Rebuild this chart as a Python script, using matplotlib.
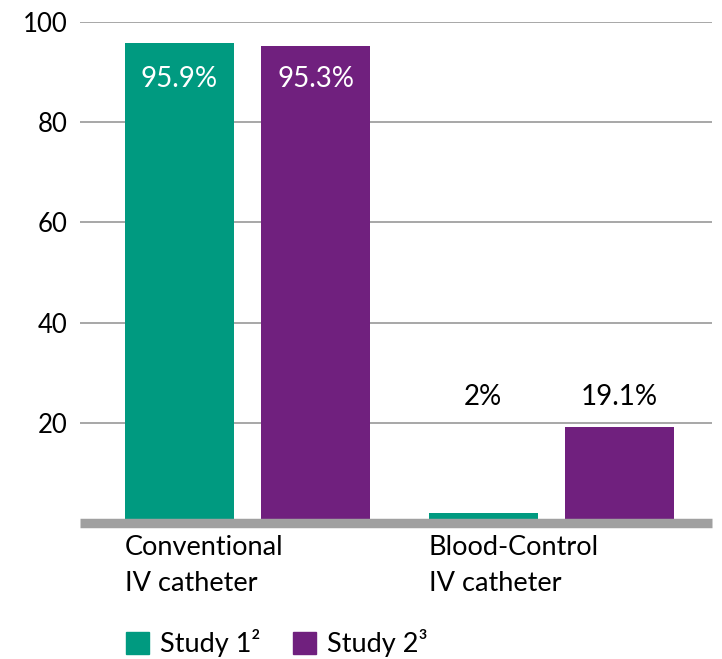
import numpy as np
import matplotlib
matplotlib.use("Agg")
import matplotlib.pyplot as plt
from matplotlib.patches import Patch

plt.rcParams['font.family'] = ['Lato', 'DejaVu Sans']

# данные
categories = ["Conventional\nIV catheter", "Blood-Control\nIV catheter"]
study1 = [95.9, 2]
study2 = [95.3, 19.1]
labels1 = ["95.9%", "2%"]
labels2 = ["95.3%", "19.1%"]
series_names = ["Study 1²", "Study 2³"]

green = "#009a80"
purple = "#70207e"
gray = "#a0a0a0"

fig = plt.figure(figsize=(7.22, 6.59), dpi=100)
ax = fig.add_axes([0.1108, 0.2064, 0.8753, 0.7602])

x = np.arange(len(categories))
w = 0.359
off = 0.224
ax.bar(x - off, study1, w, color=green, zorder=2)
ax.bar(x + off, study2, w, color=purple, zorder=2)

ax.set_xlim(-0.551, 1.528)
ax.set_ylim(0, 100)
ax.set_yticks([20, 40, 60, 80, 100])
ax.grid(axis='y', color=gray, lw=1.3, zorder=1)
ax.set_axisbelow(True)
for s in ax.spines.values():
    s.set_visible(False)
ax.tick_params(axis='y', length=0, pad=9, labelsize=18.5)
ax.set_xticks([])
ax.axhline(0, color=gray, lw=6.8, zorder=3, clip_on=False, solid_capstyle='butt')

# подписи значений
ax.text(x[0] - off, 88.6, labels1[0], color='white', ha='center', va='center', fontsize=20)
ax.text(x[0] + off, 88.6, labels2[0], color='white', ha='center', va='center', fontsize=20)
ax.text(x[1] - off, 25.2, labels1[1], color='black', ha='center', va='center', fontsize=20)
ax.text(x[1] + off, 25.2, labels2[1], color='black', ha='center', va='center', fontsize=20)

# подписи категорий
for i, c in enumerate(categories):
    ax.text(x[i] - off - w / 2, -2.3, c, ha='left', va='top', fontsize=19.5,
            linespacing=1.55)

handles = [Patch(color=green), Patch(color=purple)]
fig.legend(handles, series_names, loc='lower left', bbox_to_anchor=(0.16, -0.014),
           ncol=2, frameon=False, fontsize=19.5, handlelength=0.85, handleheight=0.85,
           handletextpad=0.4, columnspacing=1.2, borderaxespad=0)

plt.savefig("out.png", dpi=100)
